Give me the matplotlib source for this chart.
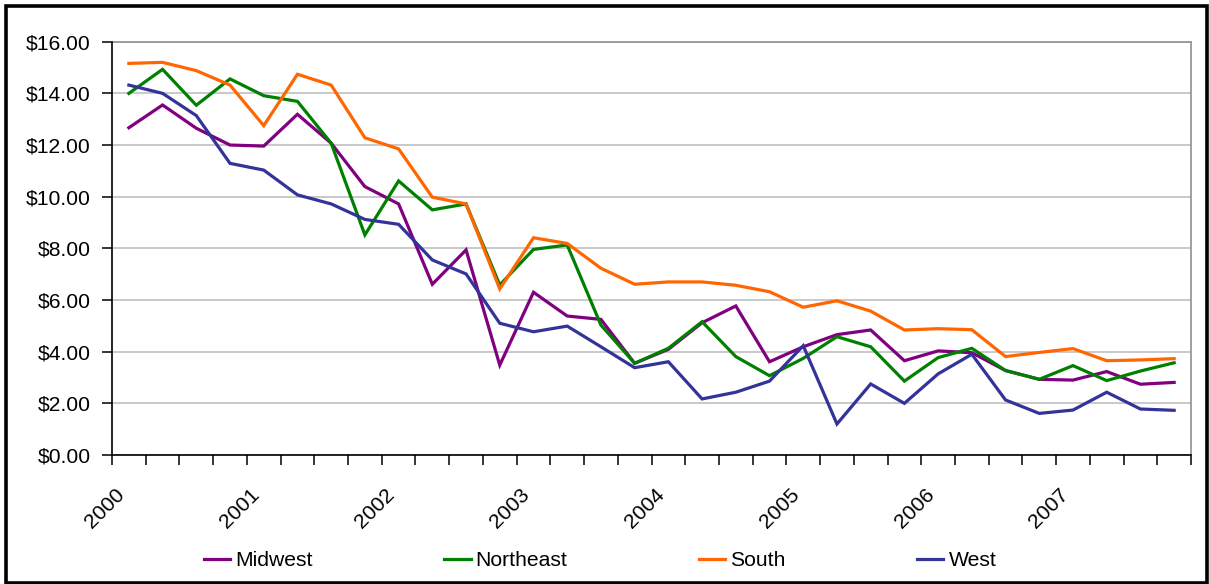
import matplotlib
matplotlib.use("Agg")
import matplotlib.pyplot as plt
import matplotlib.transforms as mtransforms
from matplotlib.patches import Rectangle
from matplotlib.ticker import FixedLocator, FuncFormatter
import numpy as np

plt.rcParams['font.family'] = ['Liberation Sans', 'DejaVu Sans']

# Quarterly prices, 2000 Q1 through 2007 Q4
years = [2000, 2001, 2002, 2003, 2004, 2005, 2006, 2007]
quarters = [f"{y} Q{q}" for y in years for q in range(1, 5)]

midwest = [12.67, 13.55, 12.65, 12.00, 11.96, 13.19, 12.07, 10.39,
           9.72, 6.61, 7.94, 3.48, 6.30, 5.38, 5.25, 3.55,
           4.09, 5.12, 5.77, 3.61, 4.19, 4.66, 4.84, 3.65,
           4.03, 3.96, 3.27, 2.93, 2.90, 3.23, 2.74, 2.81]
northeast = [14.00, 14.93, 13.54, 14.56, 13.91, 13.69, 12.07, 8.52,
             10.61, 9.49, 9.72, 6.58, 7.96, 8.13, 5.03, 3.55,
             4.13, 5.16, 3.81, 3.07, 3.74, 4.58, 4.19, 2.86,
             3.77, 4.13, 3.27, 2.93, 3.46, 2.88, 3.25, 3.57]
south = [15.16, 15.20, 14.88, 14.32, 12.75, 14.74, 14.32, 12.28,
         11.85, 9.98, 9.72, 6.43, 8.41, 8.19, 7.23, 6.61,
         6.70, 6.70, 6.57, 6.32, 5.72, 5.97, 5.57, 4.84,
         4.89, 4.85, 3.81, 3.97, 4.12, 3.65, 3.68, 3.73]
west = [14.32, 14.00, 13.14, 11.29, 11.03, 10.07, 9.72, 9.12,
        8.93, 7.55, 7.01, 5.10, 4.77, 4.99, 4.19, 3.38,
        3.61, 2.17, 2.43, 2.86, 4.23, 1.20, 2.75, 2.00,
        3.14, 3.90, 2.13, 1.61, 1.74, 2.43, 1.78, 1.73]

series = [("Midwest", midwest, "#800080"),
          ("Northeast", northeast, "#008000"),
          ("South", south, "#FF6600"),
          ("West", west, "#333399")]

y_ticks = [0, 2, 4, 6, 8, 10, 12, 14, 16]

W, H, DPI = 1209, 584, 100
fig = plt.figure(figsize=(W / DPI, H / DPI), dpi=DPI)
fig.patch.set_facecolor("white")

ax = fig.add_axes([112 / W, 1 - 455 / H, (1191 - 112) / W, (455 - 41.7) / H])

n = len(quarters)
x = np.arange(n)
for name, vals, color in series:
    ax.plot(x, vals, color=color, lw=2.3, label=name, solid_joinstyle="miter",
            zorder=3)

ax.set_xlim(-0.5, n - 0.5)
ax.set_ylim(0, 16)

# y axis: dollar labels with grey gridlines
ax.set_yticks(y_ticks)
ax.yaxis.set_major_formatter(FuncFormatter(lambda v, p: f"${v:.2f}"))
ax.grid(axis="y", color="#c0c0c0", lw=1.2, zorder=1)
ax.tick_params(axis="y", direction="out", length=7, width=1.1, pad=8.5,
               labelsize=15.2, colors="black")

# x axis: tick marks between quarters, year labels on first quarter
ax.xaxis.set_minor_locator(FixedLocator(np.arange(n + 1) - 0.5))
year_pos = [i for i, q in enumerate(quarters) if q.endswith("Q1")]
ax.set_xticks(year_pos)
ax.set_xticklabels([q.split()[0] for q in quarters if q.endswith("Q1")])
ax.tick_params(axis="x", which="major", length=0, pad=26.5, labelsize=15.2)
ax.tick_params(axis="x", which="minor", direction="out", length=7, width=1.1,
               colors="black")
offset = mtransforms.ScaledTranslation(-5 / 72, 0, fig.dpi_scale_trans)
for lab in ax.get_xticklabels():
    lab.set_rotation(45)
    lab.set_rotation_mode("anchor")
    lab.set_ha("right")
    lab.set_va("center")
    lab.set_transform(lab.get_transform() + offset)

for side in ("left", "bottom"):
    ax.spines[side].set_color("black")
    ax.spines[side].set_linewidth(1.2)
    ax.spines[side].set_zorder(4)
for side in ("top", "right"):
    ax.spines[side].set_color("#909090")
    ax.spines[side].set_linewidth(1.2)

fig.legend(loc="center", bbox_to_anchor=(600 / W, 1 - 560.7 / H), ncol=4,
           frameon=False, fontsize=15.2, handlelength=1.27, handletextpad=0.24,
           columnspacing=6.2, borderpad=0, borderaxespad=0)

# outer chart border
fig.patches.append(Rectangle((5.7 / W, 1.5 / H), (1206.5 - 5.7) / W,
                             (578 - 1.5) / H, transform=fig.transFigure,
                             fill=False, edgecolor="black", lw=2.6))

fig.savefig("out.png", dpi=DPI, facecolor="white")
